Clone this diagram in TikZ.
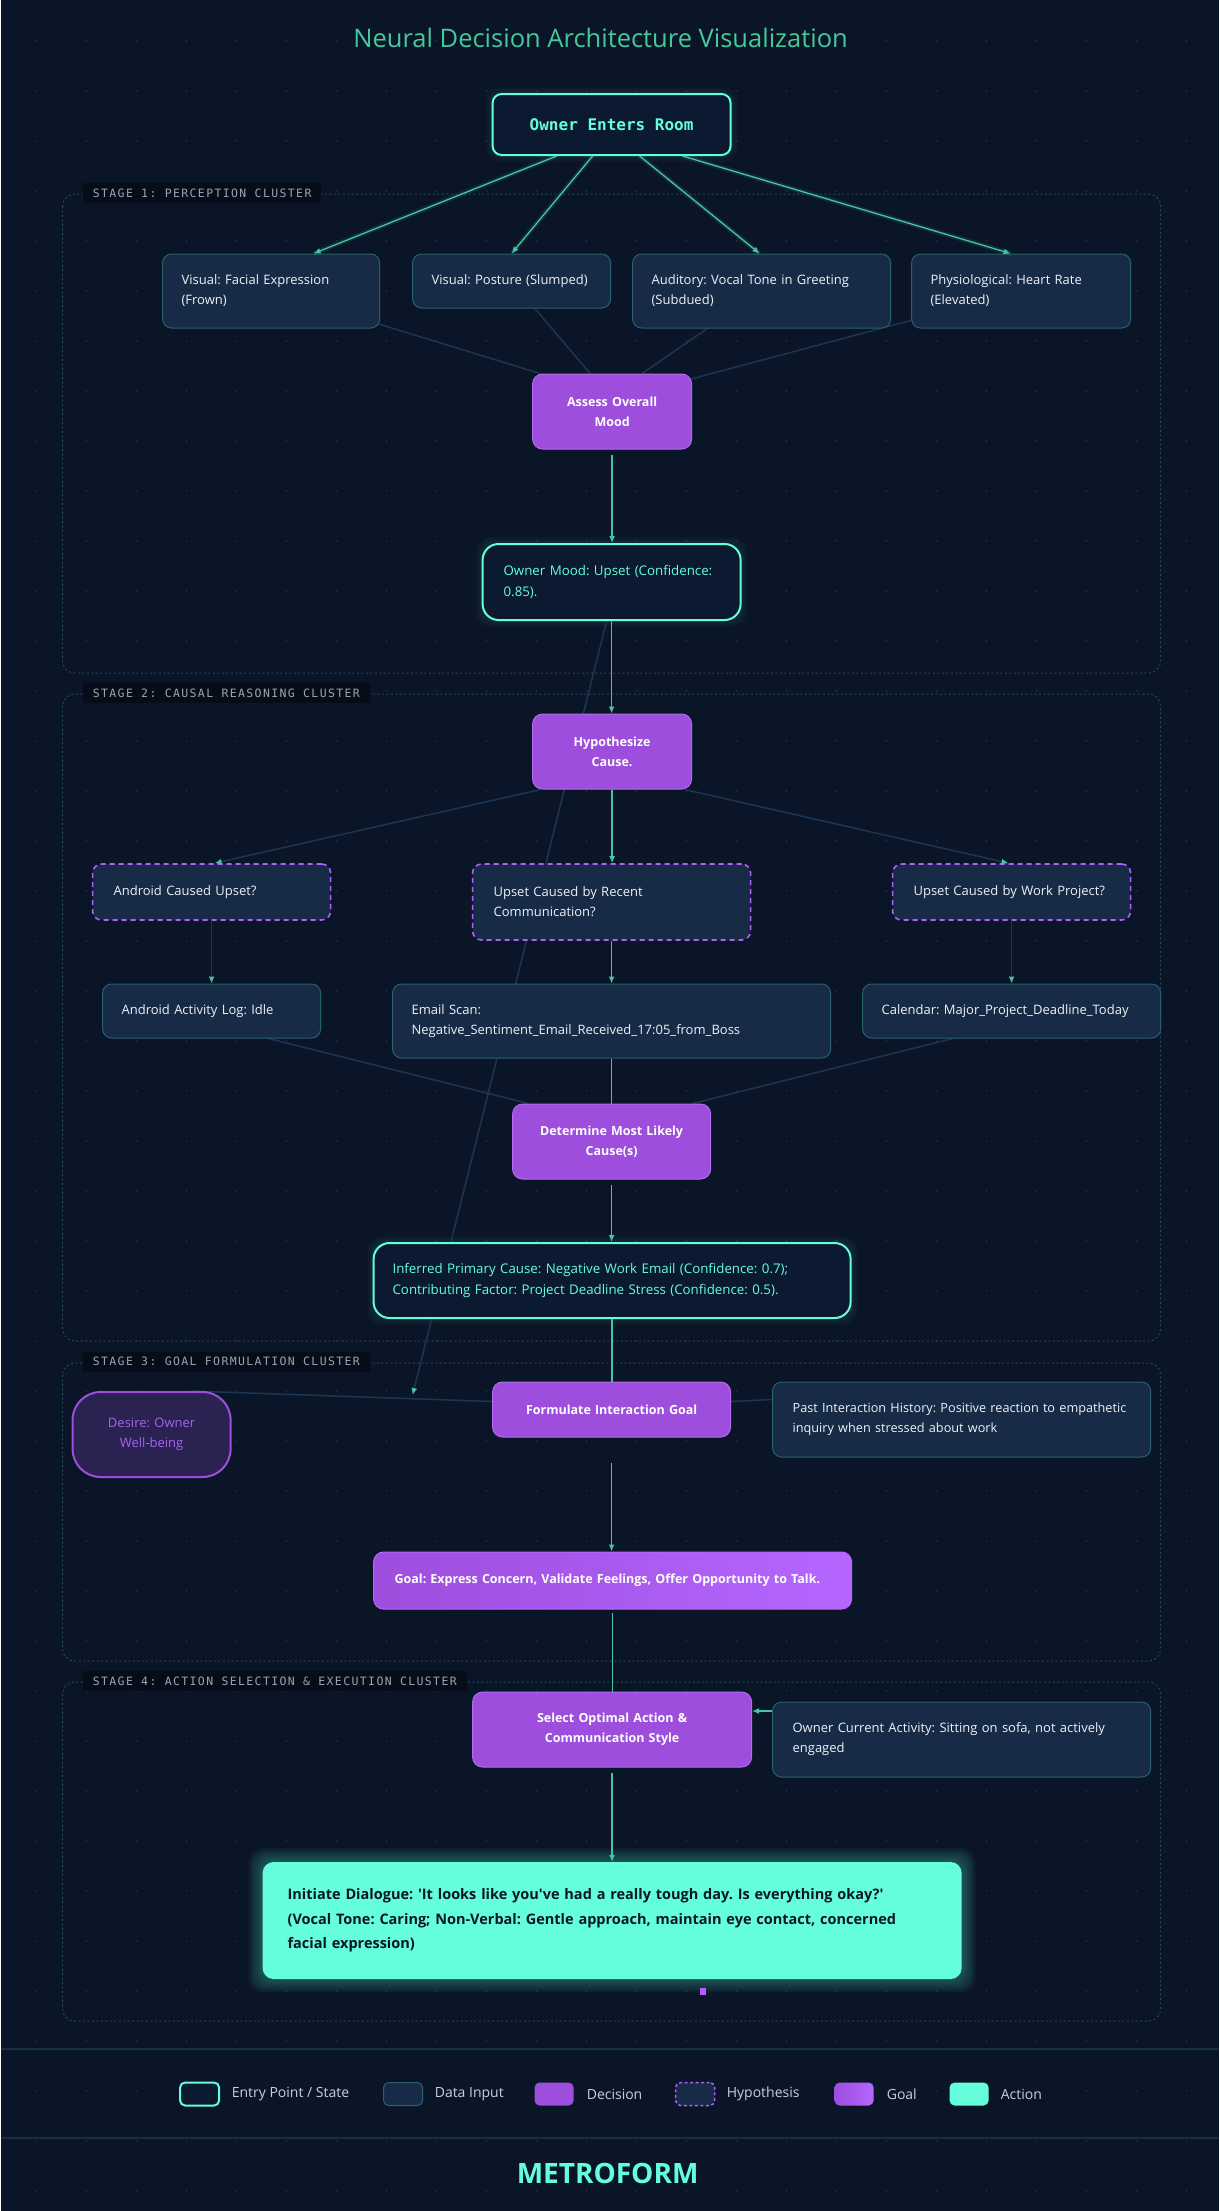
\documentclass[tikz,border=0pt]{standalone}
\usepackage{fontspec}
\setmainfont{Open Sans}[Ligatures=TeXOff]
\newfontfamily\monofnt{DejaVu Sans Mono}
\newfontfamily\labelfnt{DejaVu Sans Mono}[LetterSpace=12]
\usetikzlibrary{arrows.meta}
\pgfdeclarelayer{bglayer}
\pgfdeclarelayer{edgelayer}
\pgfsetlayers{bglayer,edgelayer,main}
\definecolor{cbg}{HTML}{0A1628}
\definecolor{cteal}{HTML}{64FFDA}
\definecolor{cedge}{HTML}{45C4A8}
\definecolor{cdim}{HTML}{1C3553}
\definecolor{cdata}{HTML}{172A46}
\definecolor{cdataborder}{HTML}{2A5F6E}
\definecolor{cpurple}{HTML}{9D4EDD}
\definecolor{cpurpleb}{HTML}{B26CF2}
\definecolor{chyp}{HTML}{B35CFF}
\definecolor{cstate}{HTML}{0B1A30}
\definecolor{ctext}{HTML}{EEF2F7}
\definecolor{ctitle}{HTML}{45C99A}
\definecolor{cgrid}{HTML}{1E3049}
\definecolor{ccluster}{HTML}{1E4A55}
\definecolor{clabelbg}{HTML}{060D18}
\definecolor{clabel}{HTML}{9AA4B2}
\definecolor{cdesire}{HTML}{2A2250}
\definecolor{cdesiretext}{HTML}{A463F2}
\definecolor{cgoalA}{HTML}{9D4EDD}
\definecolor{cgoalB}{HTML}{B566FF}
\definecolor{csep}{HTML}{16303F}
\definecolor{clegend}{HTML}{C8D0DA}
\definecolor{cdark}{HTML}{0A1628}
\frenchspacing
\hyphenpenalty=10000
\exhyphenpenalty=10000
\begin{document}
\begin{tikzpicture}[x=1pt,y=-1pt,
  databox/.style={rounded corners=9pt, fill=cdata, draw=cdataborder, line width=1pt, text=ctext, align=left, inner xsep=19pt, inner ysep=0pt, font=\fontsize{13}{20}\selectfont},
  hypbox/.style={databox, draw=chyp, line width=1.6pt, dash pattern=on 5pt off 4pt, inner xsep=21pt},
  statebox/.style={rounded corners=16pt, fill=cstate, draw=cteal, line width=2pt, text=cteal, align=left, inner xsep=21pt, inner ysep=0pt, font=\fontsize{13.3}{20.5}\selectfont},
  decbox/.style={rounded corners=10pt, fill=cpurple, draw=cpurpleb, line width=1pt, text=white, align=center, inner xsep=10pt, inner ysep=0pt, font=\fontsize{12.5}{20}\selectfont\bfseries},
  desirebox/.style={rounded corners=28pt, fill=cdesire, draw=cpurple, line width=2pt, text=cdesiretext, align=center, inner xsep=10pt, inner ysep=0pt, font=\fontsize{13}{20}\selectfont},
  goalbox/.style={rounded corners=10pt, left color=cgoalA, right color=cgoalB, draw=cgoalB, line width=1pt, text=white, align=left, inner xsep=21pt, inner ysep=0pt, font=\fontsize{12.5}{20}\selectfont\bfseries},
  actbox/.style={rounded corners=11pt, fill=cteal, text=cdark, align=left, inner xsep=25pt, inner ysep=0pt, font=\fontsize{14.5}{24.5}\selectfont\bfseries},
  entrybox/.style={rounded corners=9pt, fill=cstate, draw=cteal, line width=2pt, text=cteal, inner sep=0pt, font=\monofnt\bfseries\fontsize{16}{20}\selectfont},
  stagelabel/.style={fill=clabelbg, text=clabel, anchor=west, inner xsep=10pt, inner ysep=0pt, minimum height=20pt, font=\labelfnt\fontsize{11.5}{13}\selectfont},
  cluster/.style={draw=ccluster, line width=1pt, dash pattern=on 2pt off 2.5pt, rounded corners=12pt},
  tealedge/.style={draw=cedge, line width=1.3pt},
  dimedge/.style={draw=cdim, line width=1.5pt},
  arr/.style={-{Latex[length=7pt,width=6pt]}},
  dimarr/.style={-{Latex[length=7pt,width=6pt,color=cedge]}},
  glowedge/.style={draw=cedge, line width=5pt, opacity=0.12},
  swatch/.style={minimum width=39pt, minimum height=23pt, inner sep=0pt, rounded corners=5pt},
  legtext/.style={anchor=west, text=clegend, inner sep=0pt, font=\fontsize{14}{16}\selectfont}
]
\begin{pgfonlayer}{bglayer}
\fill[cbg] (0,0) rectangle (1218,2211);
\foreach \i in {0,...,23}{\foreach \j in {0,...,43}{\fill[cgrid] ({36+50*\i},{41+50*\j}) circle (0.9pt);}}
\draw[csep, line width=1.2pt] (0,2049) -- (1218,2049);
\draw[csep, line width=1.2pt] (0,2138) -- (1218,2138);
\end{pgfonlayer}
\useasboundingbox (0,0) rectangle (1218,2211);

% title
\node[text=ctitle, font=\fontsize{25.5}{30}\selectfont] (title) at (600,38) {Neural Decision Architecture Visualization};

% clusters
\draw[cluster] (62,194) rectangle (1160,673);
\draw[cluster] (62,694) rectangle (1160,1341);
\draw[cluster] (62,1363) rectangle (1160,1661);
\draw[cluster] (62,1682) rectangle (1160,2021);
\node[stagelabel] (l1) at (82,193) {STAGE 1: PERCEPTION CLUSTER};
\node[stagelabel] (l2) at (82,693) {STAGE 2: CAUSAL REASONING CLUSTER};
\node[stagelabel] (l3) at (82,1361.5) {STAGE 3: GOAL FORMULATION CLUSTER};
\node[stagelabel] (l4) at (82,1681) {STAGE 4: ACTION SELECTION \& EXECUTION CLUSTER};

% nodes
\node[entrybox, minimum width=238pt, minimum height=61pt] (entry) at (611,124.5) {Owner Enters Room};
\node[databox, text width=179pt, minimum height=74pt] (vf) at (270.5,291) {Visual: Facial Expression\\(Frown)};
\node[databox, text width=160pt, minimum height=54pt] (vp) at (511,281) {Visual: Posture (Slumped)};
\node[databox, text width=220pt, minimum height=74pt] (va) at (761,291) {Auditory: Vocal Tone in Greeting\\(Subdued)};
\node[databox, text width=181pt, minimum height=74pt] (vh) at (1020.5,291) {Physiological: Heart Rate\\(Elevated)};
\node[decbox, text width=139pt, minimum height=75pt] (assess) at (611.5,411.5) {Assess Overall\\Mood};
\node[statebox, text width=216pt, minimum height=76pt] (mood) at (611,582) {Owner Mood: Upset (Confidence:\\0.85).};
\node[decbox, text width=139pt, minimum height=75pt] (hyp) at (611.5,751.5) {Hypothesize\\Cause.};
\node[hypbox, text width=196pt, minimum height=56pt] (h1) at (211,892) {Android Caused Upset?};
\node[hypbox, text width=236pt, minimum height=76pt] (h2) at (611,902) {Upset Caused by Recent\\Communication?};
\node[hypbox, text width=196pt, minimum height=56pt] (h3) at (1011,892) {Upset Caused by Work Project?};
\node[databox, text width=180pt, minimum height=54pt] (d1) at (211,1011) {Android Activity Log: Idle};
\node[databox, text width=400pt, minimum height=74pt] (d2) at (611,1021) {Email Scan:\\Negative\_Sentiment\_Email\_Received\_17:05\_from\_Boss};
\node[databox, text width=260pt, minimum height=54pt] (d3) at (1011,1011) {Calendar: Major\_Project\_Deadline\_Today};
\node[decbox, text width=178pt, minimum height=75pt] (det) at (611,1141.5) {Determine Most Likely\\Cause(s)};
\node[statebox, inner xsep=19pt, text width=439pt, minimum height=75pt] (inf) at (611.5,1280.5) {Inferred Primary Cause: Negative Work Email (Confidence: 0.7);\\Contributing Factor: Project Deadline Stress (Confidence: 0.5).};
\node[decbox, text width=218pt, minimum height=55pt] (form) at (611,1409.5) {Formulate Interaction Goal};
\node[databox, inner xsep=20pt, text width=338pt, minimum height=75pt, font=\fontsize{12.7}{20}\selectfont] (past) at (961,1419.5) {\mbox{Past Interaction History: Positive reaction to empathetic}\\inquiry when stressed about work};
\node[desirebox, text width=138pt, minimum height=85pt] (desire) at (151,1434.5) {Desire: Owner\\Well-being};
\node[goalbox, text width=436pt, minimum height=57pt] (goal) at (612,1580.5) {Goal: Express Concern, Validate Feelings, Offer Opportunity to Talk.};
\node[decbox, text width=259pt, minimum height=75pt] (sel) at (611.5,1729.5) {Select Optimal Action \&\\Communication Style};
\node[databox, inner xsep=20pt, text width=338pt, minimum height=75pt] (cur) at (961,1739.5) {Owner Current Activity: Sitting on sofa, not actively\\engaged};
\node[actbox, text width=649pt, minimum height=117pt] (act) at (611.5,1920.5) {Initiate Dialogue: 'It looks like you've had a really tough day. Is everything okay?'\\(Vocal Tone: Caring; Non-Verbal: Gentle approach, maintain eye contact, concerned\\facial expression)};
\node[fill=chyp, minimum width=6pt, minimum height=7pt, inner sep=0pt] (pmark) at (702.5,1991.5) {};
\coordinate (mend) at (412,1395);

% glows
\begin{pgfonlayer}{bglayer}
\foreach \k in {1,...,14}{\fill[cteal, fill opacity=0.022, rounded corners=14pt] ([shift={(-\k pt,\k pt)}]act.north west) rectangle ([shift={(\k pt,-\k pt)}]act.south east);}
\foreach \n in {entry,mood,inf}{\foreach \k in {1,...,6}{\fill[cteal, fill opacity=0.015, rounded corners=14pt] ([shift={(-\k pt,\k pt)}]\n.north west) rectangle ([shift={(\k pt,-\k pt)}]\n.south east);}}
\end{pgfonlayer}

% dim edges behind nodes
\begin{pgfonlayer}{edgelayer}
\draw[dimedge] (vf.center) -- ([xshift=-72pt]assess.north);
\draw[dimedge] (vp.center) -- ([xshift=-22pt]assess.north);
\draw[dimedge] (va.center) -- ([xshift=30pt]assess.north);
\draw[dimedge] (vh.center) -- ([xshift=77pt,yshift=-6pt]assess.north);
\draw[dimedge] ([xshift=57pt]d1.south) -- ([xshift=-83pt]det.north);
\draw[dimedge] ([xshift=-59pt]d3.south) -- ([xshift=81pt]det.north);
\draw[dimedge] ([xshift=40pt]desire.north) -- ([yshift=8pt]form.west);
\draw[dimedge] ([yshift=20pt]past.west) -- ([yshift=8pt]form.east);
\draw[dimedge, dimarr] ([xshift=-5pt]mood.south) -- (mend);
\end{pgfonlayer}

% entry edges (glowing)
\foreach \s/\t/\e in {-55/vf/42.5, -19/vp/0, 28/va/-2, 71/vh/-10.5}{
  \draw[glowedge] ([xshift=\s pt]entry.south) -- ([xshift=\e pt]\t.north);
  \draw[tealedge, arr] ([xshift=\s pt]entry.south) -- ([xshift=\e pt]\t.north);
}

% teal flow edges
\draw[tealedge, arr, shorten <=5pt] (assess.south) -- (assess.south |- mood.north);
\draw[tealedge, arr] (mood.south) -- (mood.south |- hyp.north);
\draw[tealedge, arr] (hyp.south) -- (hyp.south |- h2.north);
\draw[dimedge, dimarr] ([xshift=-71.5pt]hyp.south) -- ([xshift=3pt]h1.north);
\draw[dimedge, dimarr] ([xshift=72.5pt]hyp.south) -- ([xshift=-3pt]h3.north);
\draw[dimedge, dimarr] (h1.south) -- (h1.south |- d1.north);
\draw[tealedge, arr] (h2.south) -- (h2.south |- d2.north);
\draw[dimedge, dimarr] (h3.south) -- (h3.south |- d3.north);
\draw[tealedge] (d2.south) -- (d2.south |- det.north);
\draw[tealedge, arr, shorten <=5pt] (det.south) -- (det.south |- inf.north);
\draw[tealedge] (inf.south) -- (inf.south |- form.north);
\draw[tealedge, arr, shorten <=25pt] (form.south) -- (form.south |- goal.north);
\draw[tealedge, shorten <=3pt] (goal.south) -- (goal.south |- sel.north);
\draw[tealedge, arr] ([yshift=28.5pt]cur.west) -- ([yshift=18.5pt]sel.east);
\draw[tealedge, arr, shorten <=5pt] (sel.south) -- (sel.south |- act.north);

% legend
\node[swatch, fill=cstate, draw=cteal, line width=2pt] (lg1) at (199,2094) {};
\node[legtext] (lt1) at (231,2094) {Entry Point / State};
\node[swatch, fill=cdata, draw=cdataborder, line width=1pt] (lg2) at (402.5,2094) {};
\node[legtext] (lt2) at (434,2094) {Data Input};
\node[swatch, fill=cpurple] (lg3) at (553.5,2094) {};
\node[legtext] (lt3) at (586,2094) {Decision};
\node[swatch, fill=cdata, draw=chyp, line width=1.5pt, dash pattern=on 3pt off 2.5pt] (lg4) at (694.5,2094) {};
\node[legtext] (lt4) at (726,2094) {Hypothesis};
\node[swatch, left color=cgoalA, right color=cgoalB] (lg5) at (853.5,2094) {};
\node[legtext] (lt5) at (886,2094) {Goal};
\node[swatch, fill=cteal] (lg6) at (968.5,2094) {};
\node[legtext] (lt6) at (1000,2094) {Action};

\node[text=cteal, font=\bfseries\fontsize{28}{32}\selectfont] (brand) at (607,2173) {METROFORM};
\end{tikzpicture}
\end{document}
